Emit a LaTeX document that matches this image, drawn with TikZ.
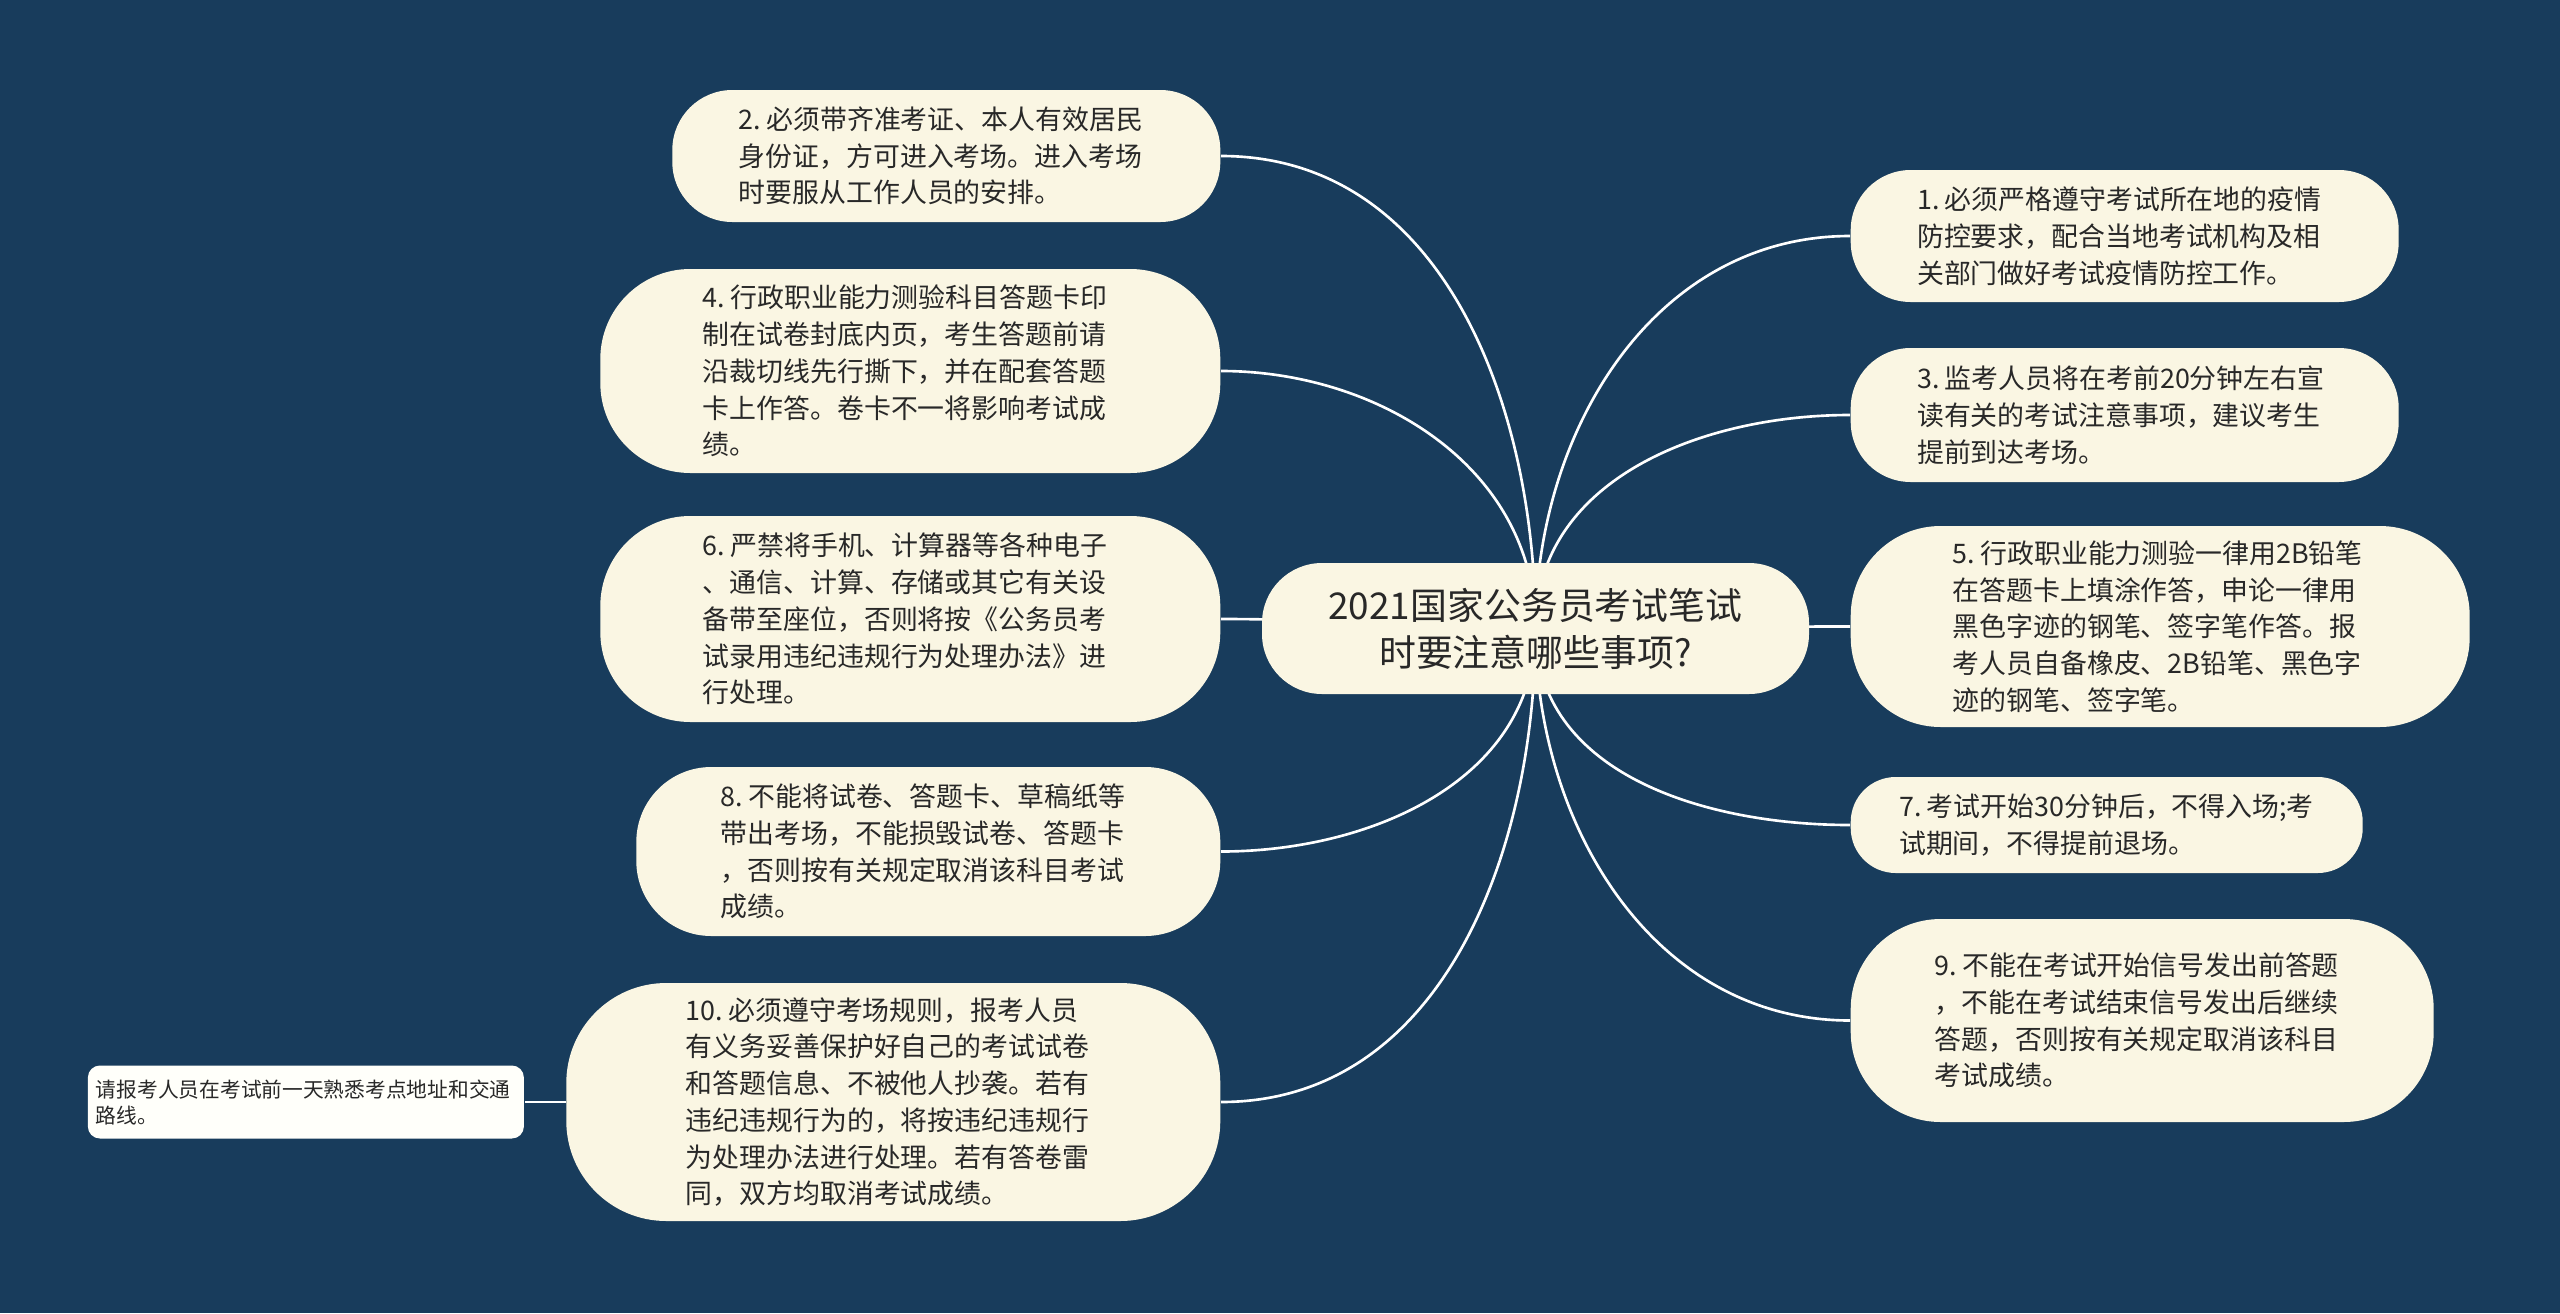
\documentclass[tikz,border=0pt]{standalone}
\usepackage{fontspec}
\setmainfont{Noto Sans CJK SC}
\usetikzlibrary{positioning}
\definecolor{bgblue}{RGB}{24,60,92}
\definecolor{cream}{RGB}{250,246,227}
\definecolor{paper}{RGB}{255,255,250}
\definecolor{ink}{RGB}{40,40,40}
\pgfdeclarelayer{back}
\pgfdeclarelayer{links}
\pgfsetlayers{back,links,main}
\newcommand{\num}[1]{#1.\kern0.2em}
\tikzset{
  root/.style={fill=cream, text=ink, rounded corners=0.6cm, align=center, inner sep=0pt,
    minimum width=5.47cm, minimum height=1.31cm, font=\fontsize{10.5}{13.4}\selectfont},
  topic/.style={fill=cream, text=ink, rounded corners=0.6cm, align=left, inner sep=0pt,
    text width=4.15cm, font=\fontsize{7.65}{10.45}\selectfont},
  note/.style={fill=paper, text=ink, rounded corners=0.12cm, align=left, inner sep=0pt,
    text width=4.2cm, minimum width=4.36cm, minimum height=0.73cm,
    font=\fontsize{5.9}{7.4}\selectfont},
  link/.style={draw=white, line width=0.75pt}
}
\begin{document}
\begin{tikzpicture}
\begin{pgfonlayer}{back}
\fill[bgblue] (0,0) rectangle (25.6,-13.13);
\end{pgfonlayer}
\useasboundingbox (0,0) rectangle (25.6,-13.13);

\node[root] (ctr) at (15.355,-6.285) {2021国家公务员考试笔试\\时要注意哪些事项?};

% left side
\node[topic, anchor=east, minimum width=5.48cm, minimum height=1.32cm] (n2) at (12.21,-1.56)
  {\num{2}必须带齐准考证、本人有效居民\\身份证，方可进入考场。进入考场\\时要服从工作人员的安排。};
\node[topic, anchor=east, minimum width=6.2cm, minimum height=2.04cm, rounded corners=0.9cm] (n4) at (12.21,-3.71)
  {\num{4}行政职业能力测验科目答题卡印\\制在试卷封底内页，考生答题前请\\沿裁切线先行撕下，并在配套答题\\卡上作答。卷卡不一将影响考试成\\绩。};
\node[topic, anchor=east, minimum width=6.2cm, minimum height=2.06cm, rounded corners=0.9cm] (n6) at (12.21,-6.19)
  {\num{6}严禁将手机、计算器等各种电子\\、通信、计算、存储或其它有关设\\备带至座位，否则将按《公务员考\\试录用违纪违规行为处理办法》进\\行处理。};
\node[topic, anchor=east, minimum width=5.84cm, minimum height=1.69cm, rounded corners=0.75cm] (n8) at (12.21,-8.515)
  {\num{8}不能将试卷、答题卡、草稿纸等\\带出考场，不能损毁试卷、答题卡\\，否则按有关规定取消该科目考试\\成绩。};
\node[topic, anchor=east, minimum width=6.54cm, minimum height=2.38cm, rounded corners=1cm] (n10) at (12.21,-11.02)
  {\num{10}必须遵守考场规则，报考人员\\有义务妥善保护好自己的考试试卷\\和答题信息、不被他人抄袭。若有\\违纪违规行为的，将按违纪违规行\\为处理办法进行处理。若有答卷雷\\同，双方均取消考试成绩。};
\node[note, left=0.41cm of n10] (tip) {请报考人员在考试前一天熟悉考点地址和交通\\路线。};

% right side
\node[topic, anchor=west, minimum width=5.48cm, minimum height=1.32cm] (n1) at (18.5,-2.36)
  {\num{1}必须严格遵守考试所在地的疫情\\防控要求，配合当地考试机构及相\\关部门做好考试疫情防控工作。};
\node[topic, anchor=west, minimum width=5.48cm, minimum height=1.34cm] (n3) at (18.5,-4.15)
  {\num{3}监考人员将在考前20分钟左右宣\\读有关的考试注意事项，建议考生\\提前到达考场。};
\node[topic, anchor=west, minimum width=6.19cm, minimum height=2.01cm, rounded corners=0.9cm] (n5) at (18.5,-6.265)
  {\num{5}行政职业能力测验一律用2B铅笔\\在答题卡上填涂作答，申论一律用\\黑色字迹的钢笔、签字笔作答。报\\考人员自备橡皮、2B铅笔、黑色字\\迹的钢笔、签字笔。};
\node[topic, anchor=west, minimum width=5.12cm, minimum height=0.96cm, rounded corners=0.45cm] (n7) at (18.5,-8.25)
  {\num{7}考试开始30分钟后，不得入场;考\\试期间，不得提前退场。};
\node[topic, anchor=west, minimum width=5.83cm, minimum height=2.03cm, rounded corners=0.9cm] (n9) at (18.5,-10.205)
  {\num{9}不能在考试开始信号发出前答题\\，不能在考试结束信号发出后继续\\答题，否则按有关规定取消该科目\\考试成绩。};

\begin{pgfonlayer}{links}
\draw[link] (ctr.center) to[out=90,in=0] (n2.east);
\draw[link] (ctr.center) to[out=90,in=0] (n4.east);
\draw[link] (ctr.center) to[out=180,in=0] (n6.east);
\draw[link] (ctr.center) to[out=-90,in=0] (n8.east);
\draw[link] (ctr.center) to[out=-90,in=0] (n10.east);
\draw[link] (ctr.center) to[out=90,in=180] (n1.west);
\draw[link] (ctr.center) to[out=90,in=180] (n3.west);
\draw[link] (ctr.center) to[out=0,in=180] (n5.west);
\draw[link] (ctr.center) to[out=-90,in=180] (n7.west);
\draw[link] (ctr.center) to[out=-90,in=180] (n9.west);
\draw[link] (n10.west) -- (tip.east);
\end{pgfonlayer}
\end{tikzpicture}
\end{document}
